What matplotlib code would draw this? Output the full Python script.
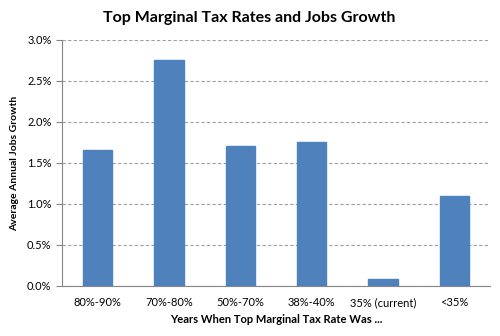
import matplotlib
matplotlib.use("Agg")
import matplotlib.pyplot as plt
from matplotlib.ticker import FuncFormatter, MultipleLocator

categories = ["80%-90%", "70%-80%", "50%-70%", "38%-40%", "35% (current)", "<35%"]
values = [1.66, 2.76, 1.71, 1.76, 0.085, 1.10]

plt.rcParams['font.family'] = ['Lato', 'DejaVu Sans']

fig = plt.figure(figsize=(5, 3.36), dpi=100)
ax = fig.add_axes([0.124, 0.149, 0.856, 0.732])

x = range(len(categories))
ax.bar(x, values, width=0.41, color='#4F81BD', edgecolor='#4F81BD', zorder=3)
ax.set_xlim(-0.5, len(categories) - 0.5)
ax.set_ylim(0, 3.0)
ax.yaxis.set_major_locator(MultipleLocator(0.5))
ax.yaxis.set_major_formatter(FuncFormatter(lambda v, p: f"{v:.1f}%"))
ax.set_xticks(list(x))
ax.set_xticklabels(categories, fontsize=8)
ax.tick_params(axis='y', labelsize=8, length=4, color='#868686', direction='out')
ax.tick_params(axis='x', length=0, pad=8)
ax.grid(axis='y', linestyle=(0, (3, 2)), color='#A0A0A0', linewidth=0.8, zorder=0)
for s in ['top', 'right']:
    ax.spines[s].set_visible(False)
for s in ['left', 'bottom']:
    ax.spines[s].set_color('#868686')
ax.set_ylabel("Average Annual Jobs Growth", fontsize=7.5, fontweight='bold', labelpad=6)
ax.set_xlabel("Years When Top Marginal Tax Rate Was ...", fontsize=8, fontweight='bold', labelpad=4)
fig.text(0.498, 0.945, "Top Marginal Tax Rates and Jobs Growth", ha='center', va='center',
         fontsize=11.5, fontweight='bold')
fig.savefig("out.png", dpi=100)
